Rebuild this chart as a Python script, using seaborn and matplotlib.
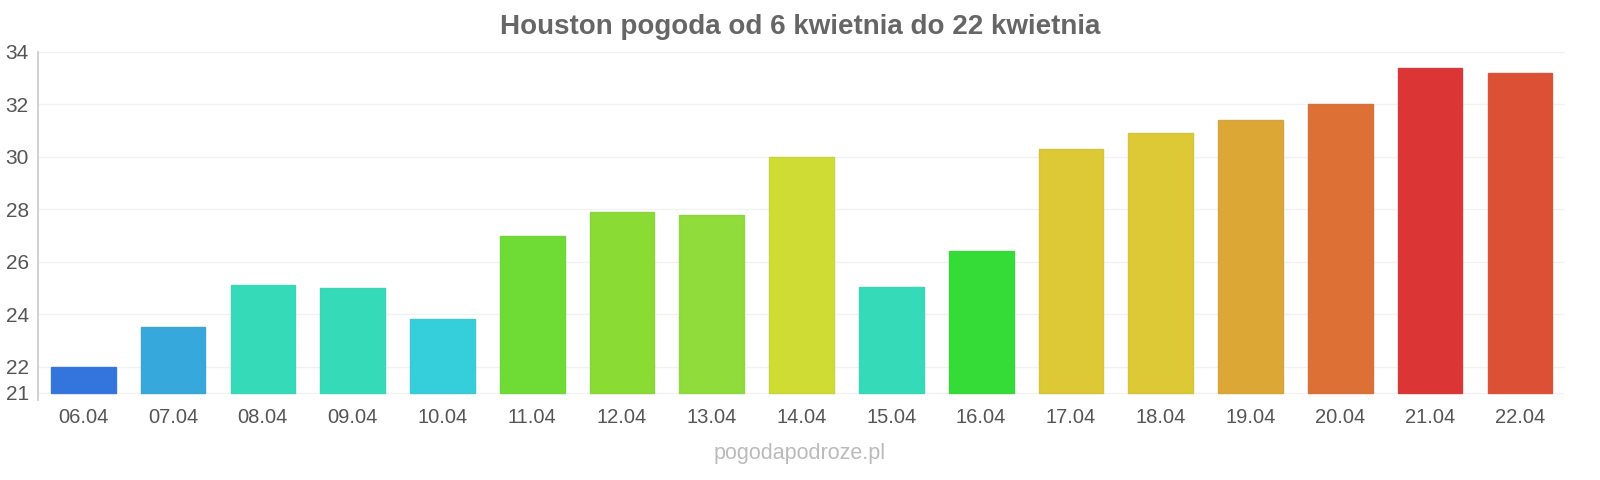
import matplotlib
matplotlib.use("Agg")
import matplotlib.pyplot as plt
import seaborn as sns
import pandas as pd

days = ['06.04', '07.04', '08.04', '09.04', '10.04', '11.04', '12.04', '13.04', '14.04',
        '15.04', '16.04', '17.04', '18.04', '19.04', '20.04', '21.04', '22.04']
temps = [22.0, 23.5, 25.1, 25.0, 23.8, 27.0, 27.9, 27.8, 30.0,
         25.05, 26.4, 30.3, 30.9, 31.4, 32.0, 33.4, 33.2]
colors = ['#3375dd', '#36a8db', '#35dbb9', '#35dbb9', '#35cfdb', '#6fdb35', '#8bdb35',
          '#8fdc3a', '#cfdc33', '#35dbb9', '#35dc37', '#dcc935', '#dcc935', '#dca735',
          '#dc7035', '#dc3535', '#dc5035']
base = 21

sns.set_theme(style="white")
plt.rcParams['font.family'] = ['Liberation Sans', 'DejaVu Sans']

df = pd.DataFrame({'day': days, 'height': [t - base for t in temps]})

fig = plt.figure(figsize=(16, 4.8), dpi=100)
ax = fig.add_axes([0.024, 0.1667, 0.954, 0.725])

sns.barplot(data=df, x='day', y='height', hue='day', palette=colors, legend=False,
            width=0.72, bottom=base, saturation=1, ax=ax, linewidth=1)
for p, c in zip(ax.patches, colors):
    p.set_edgecolor(sns.desaturate(c, 0.9))

ax.set_ylim(20.73, 34)
ax.set_xlim(-0.5, len(days) - 0.5)
ax.set_yticks([21, 22, 24, 26, 28, 30, 32, 34])
ax.yaxis.grid(True, color='#f2f2f2', linewidth=1)
ax.set_axisbelow(True)
for s in ['top', 'right', 'bottom']:
    ax.spines[s].set_visible(False)
ax.spines['left'].set_color('#cccccc')
ax.tick_params(axis='both', length=0, labelcolor='#555555')
ax.tick_params(axis='y', pad=7, labelsize=15)
ax.tick_params(axis='x', pad=6, labelsize=14.5)
ax.set_xlabel('')
ax.set_ylabel('')

fig.text(0.5, 0.943, 'Houston pogoda od 6 kwietnia do 22 kwietnia', ha='center', va='center',
         fontsize=20, fontweight='bold', color='#666666')
fig.text(0.5, 0.055, 'pogodapodroze.pl', ha='center', va='center', fontsize=15.5, color='#bbbbbb')

fig.savefig('out.png', dpi=100)
